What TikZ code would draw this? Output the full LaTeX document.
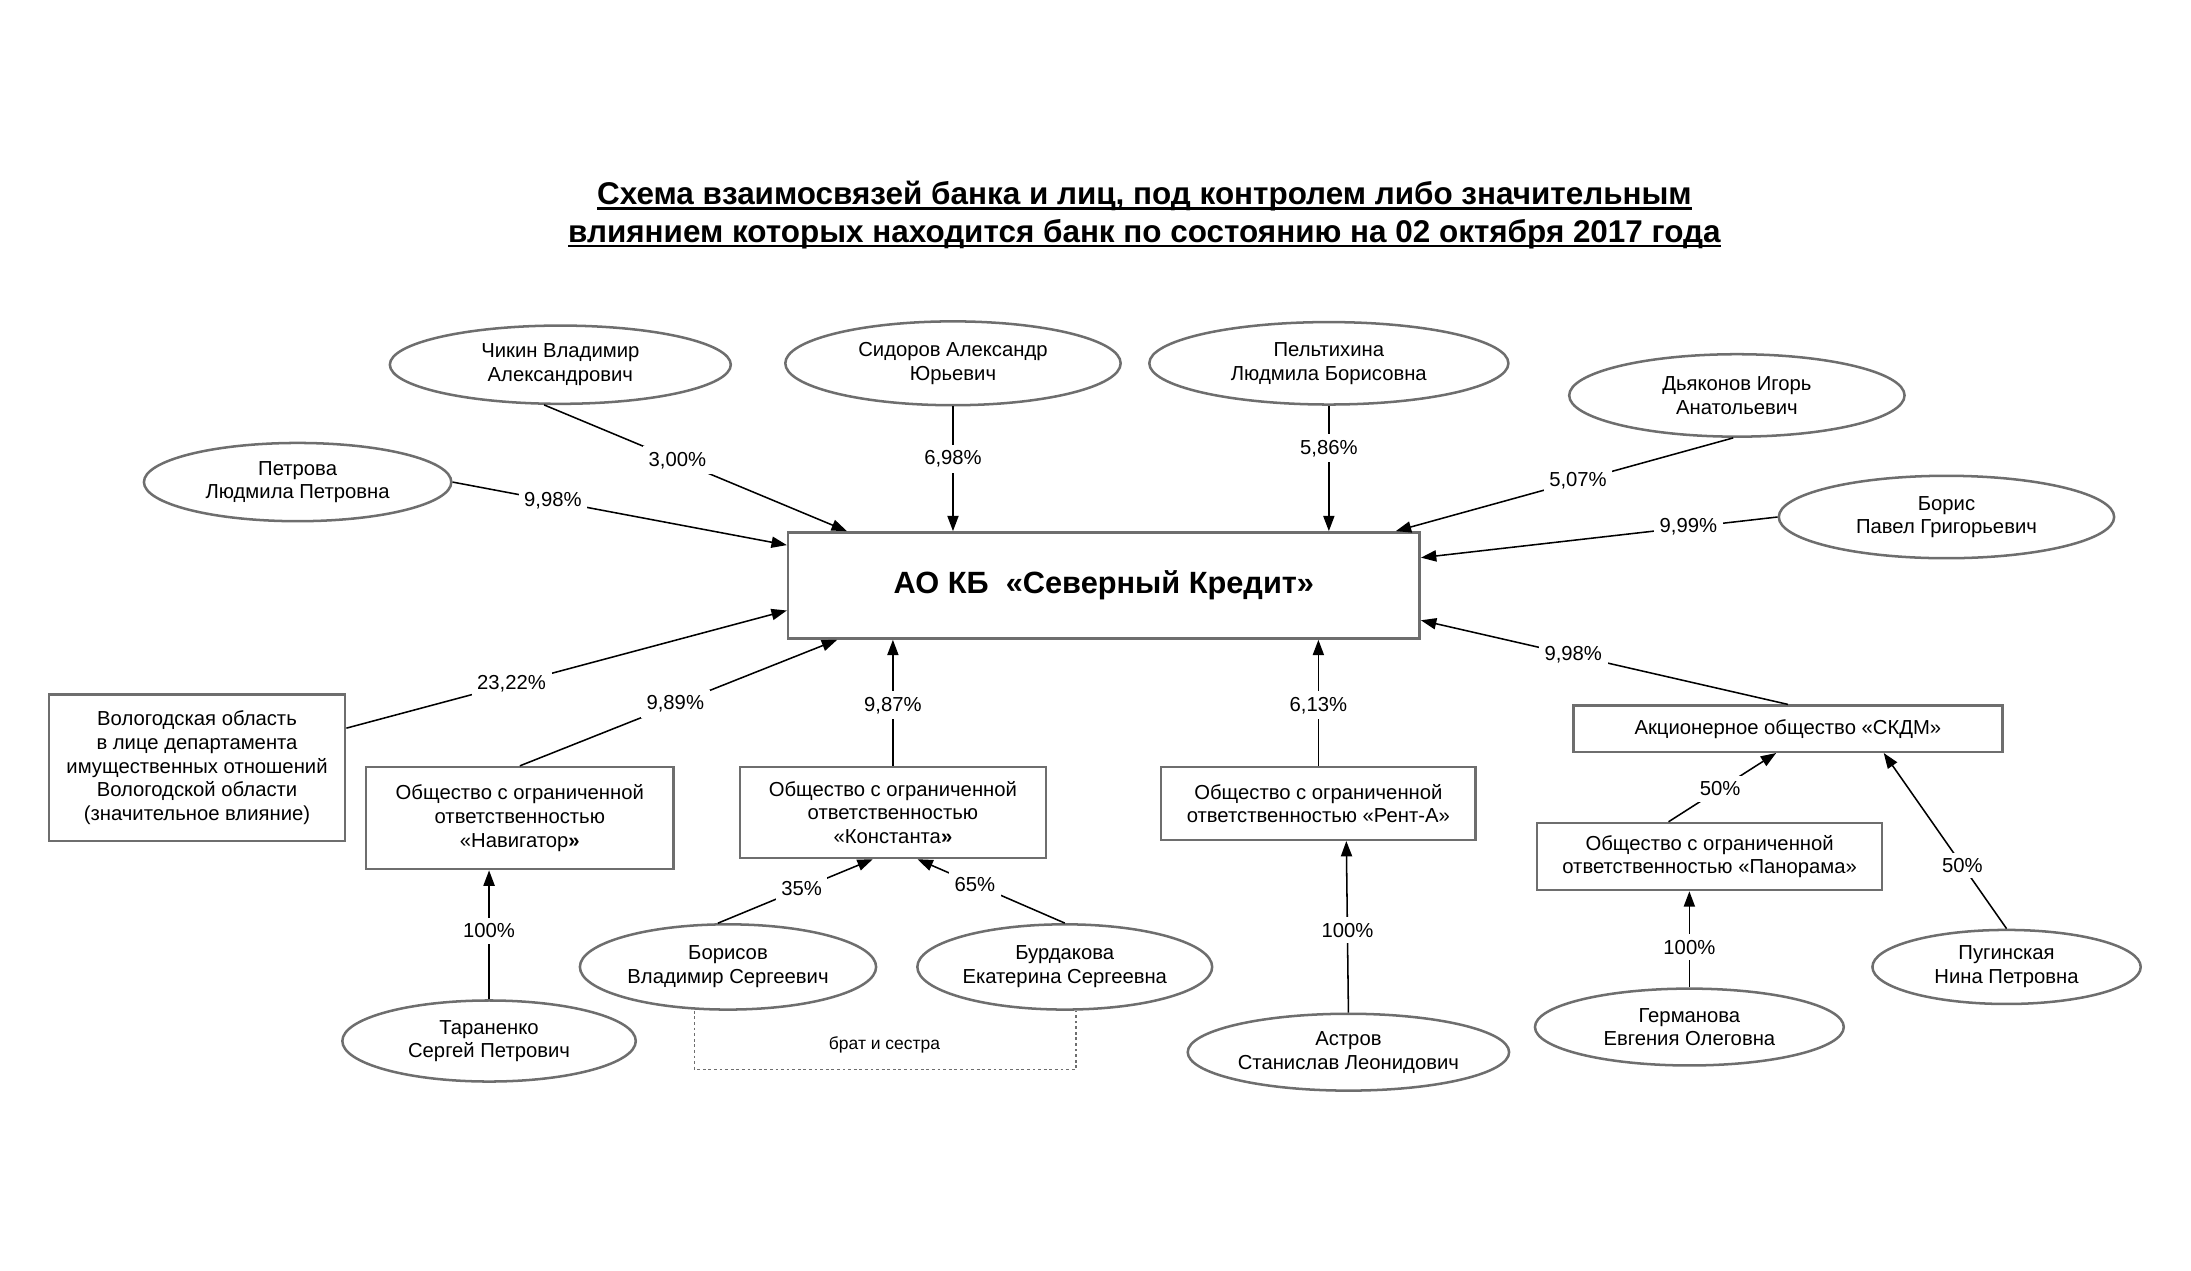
\documentclass[tikz,border=0pt]{standalone}
\usepackage{fontspec}
\setmainfont{Liberation Sans}
\usepackage{xcolor}
\definecolor{grisbord}{HTML}{6E6E6E}
\usetikzlibrary{shapes.geometric, arrows.meta, calc}
\newcommand{\souligne}[1]{\setbox0\hbox{#1}\rlap{\rule[-3.5pt]{\wd0}{1.6pt}}\box0}

\begin{document}
\begin{tikzpicture}[x=1pt, y=-1pt,
      personne/.style={ellipse, draw=grisbord, line width=1.8pt, inner sep=0pt,
                       align=center, font=\fontsize{14.5}{17}\selectfont},
      societe/.style={draw=grisbord, line width=1.8pt, inner sep=3pt,
                      align=center, font=\fontsize{14.5}{17}\selectfont},
      fleche/.style={-{Triangle[length=11pt, width=8pt]}, line width=1.1pt},
      taux/.style={fill=white, inner sep=4pt, font=\fontsize{14.5}{17}\selectfont},
      parente/.style={draw=grisbord, line width=0.9pt, dash pattern=on 2pt off 2pt}]
    \useasboundingbox (0,0) rectangle (1568,909);
    \node[align=center, font=\fontsize{22.5}{27}\selectfont\bfseries] (titre) at (819,154)
      {\souligne{Схема взаимосвязей банка и лиц, под контролем либо значительным}\\
       \souligne{влиянием которых находится банк по состоянию на 02 октября 2017 года}};

    \node[societe, minimum width=452pt, minimum height=76pt,
          font=\fontsize{22}{26}\selectfont\bfseries] (banque) at (790,419)
      {АО КБ\ \ «Северный Кредит»};

    \node[personne, minimum width=244pt, minimum height=56pt] (chikin) at (401,261) {Чикин Владимир\\Александрович};
    \node[personne, minimum width=240pt, minimum height=60pt] (sidorov) at (682,260) {Сидоров Александр\\Юрьевич};
    \node[personne, minimum width=257pt, minimum height=59pt] (peltikhina) at (951,260) {Пельтихина\\Людмила Борисовна};
    \node[personne, minimum width=240pt, minimum height=59pt] (dyakonov) at (1243,283) {Дьяконов Игорь\\Анатольевич};
    \node[personne, minimum width=220pt, minimum height=56pt] (petrova) at (213,345) {Петрова\\Людмила Петровна};
    \node[personne, minimum width=240pt, minimum height=59pt] (boris) at (1393,370) {Борис\\Павел Григорьевич};

    \node[societe, minimum width=212pt, minimum height=105pt] (vologda) at (141,549.5)
      {Вологодская область\\в лице департамента\\имущественных отношений\\Вологодской области\\(значительное влияние)};
    \node[societe, minimum width=220pt, minimum height=73pt] (navigator) at (372,585.5)
      {Общество с ограниченной\\ответственностью\\«Навигатор\textbf{»}};
    \node[societe, minimum width=219pt, minimum height=65pt] (konstanta) at (639,581.5)
      {Общество с ограниченной\\ответственностью\\«Константа\textbf{»}};
    \node[societe, minimum width=225pt, minimum height=52pt] (rent) at (943.5,575)
      {Общество с ограниченной\\ответственностью «Рент-А»};
    \node[societe, minimum width=307pt, minimum height=33pt] (skdm) at (1279.5,521.5)
      {Акционерное общество «СКДМ»};
    \node[societe, minimum width=247pt, minimum height=48pt] (panorama) at (1223.5,613)
      {Общество с ограниченной\\ответственностью «Панорама»};

    \node[personne, minimum width=210pt, minimum height=58pt] (taranenko) at (350,745) {Тараненко\\Сергей Петрович};
    \node[personne, minimum width=212pt, minimum height=61pt] (borisov) at (521,692) {Борисов\\Владимир Сергеевич};
    \node[personne, minimum width=211pt, minimum height=61pt] (burdakova) at (762,692) {Бурдакова\\Екатерина Сергеевна};
    \node[personne, minimum width=230pt, minimum height=55pt] (astrov) at (965,753) {Астров\\Станислав Леонидович};
    \node[personne, minimum width=221pt, minimum height=55pt] (germanova) at (1209,735) {Германова\\Евгения Олеговна};
    \node[personne, minimum width=192pt, minimum height=53pt] (puginskaya) at (1436,692) {Пугинская\\Нина Петровна};

    \draw[fleche] (chikin.248) -- node[taux, pos=0.44] {3,00\%} ($(banque.north west)+(43,0)$);
    \draw[fleche] (sidorov.south) -- node[taux, pos=0.42] {6,98\%} (sidorov.south |- banque.north);
    \draw[fleche] (peltikhina.south) -- node[taux, pos=0.34] {5,86\%} (peltikhina.south |- banque.north);
    \draw[fleche] (dyakonov.265) -- node[taux, pos=0.46] {5,07\%} ($(banque.north east)+(-18,0)$);
    \draw[fleche] (petrova.east) -- node[taux, pos=0.3] {9,98\%} ($(banque.north west)+(0,10)$);
    \draw[fleche] (boris.west) -- node[taux, pos=0.25] {9,99\%} ($(banque.north east)+(0,19)$);
    \draw[fleche] ($(vologda.north east)+(0,25)$) -- node[taux, pos=0.375] {23,22\%} ($(banque.south west)+(0,-21)$);
    \draw[fleche] (navigator.north) -- node[taux, pos=0.49] {9,89\%} ($(banque.south west)+(36,0)$);
    \draw[fleche] (konstanta.north) -- node[taux, pos=0.48] {9,87\%} (konstanta.north |- banque.south);
    \draw[fleche] (rent.north) -- node[taux, pos=0.48] {6,13\%} (rent.north |- banque.south);
    \draw[fleche] (skdm.north) -- node[taux, pos=0.585] {9,98\%} ($(banque.south east)+(0,-14)$);

    \draw[fleche] (taranenko.north) -- node[taux, pos=0.53] {100\%} (taranenko.north |- navigator.south);
    \draw[fleche] (borisov.103) -- node[taux, pos=0.54] {35\%} ($(konstanta.south west)+(96,0)$);
    \draw[fleche] (burdakova.north) -- node[taux, pos=0.61] {65\%} ($(konstanta.south west)+(128,0)$);
    \draw[fleche] (astrov.north) -- node[taux, pos=0.48] {100\%} ($(rent.south)+(20,0)$);
    \draw[fleche] (germanova.north) -- node[taux, pos=0.42] {100\%} (germanova.north |- panorama.south);
    \draw[fleche] ($(panorama.north west)+(95,0)$) -- node[taux, pos=0.48] {50\%} ($(skdm.south west)+(146,0)$);
    \draw[fleche] (puginskaya.north) -- node[taux, pos=0.36] {50\%} ($(skdm.south west)+(223,0)$);

    \draw[parente] ($(borisov.south)+(-24,0)$) -- ++(0,42) -| ($(burdakova.south)+(8,0)$);
    \node[font=\fontsize{12.5}{15}\selectfont] (fratrie) at (633,748) {брат и сестра};
\end{tikzpicture}
\end{document}
